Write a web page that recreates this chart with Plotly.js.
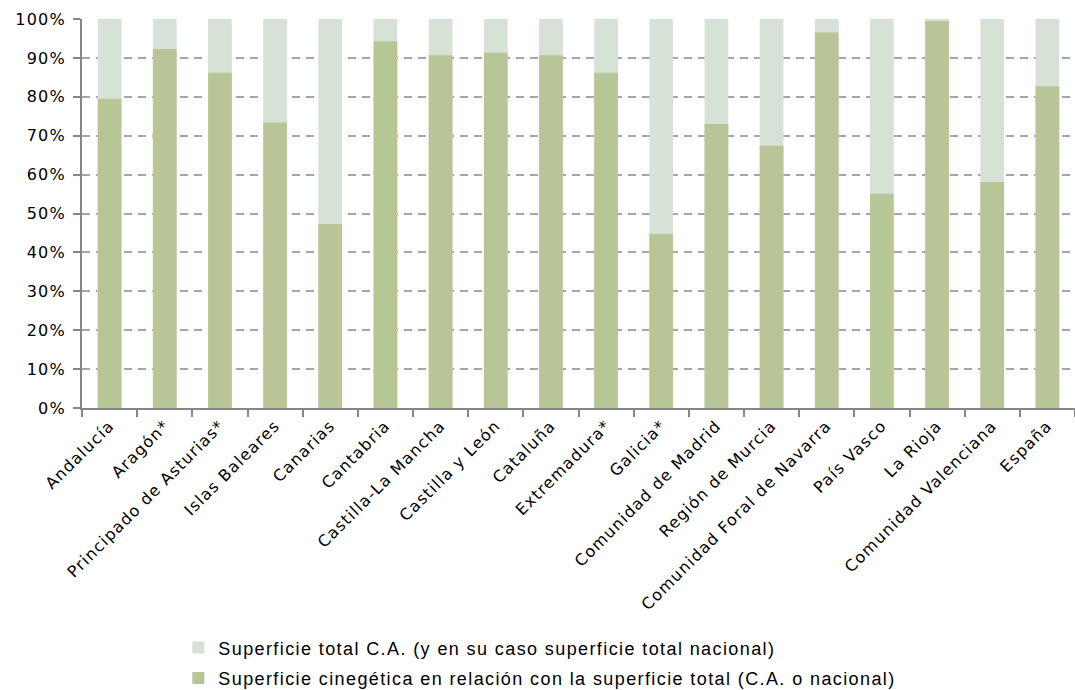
<!DOCTYPE html>
<html>
<head>
<meta charset="utf-8">
<script src="https://cdn.plot.ly/plotly-3.0.1.min.js"></script>
<style>
html,body{margin:0;padding:0;background:#fff;}
#chart{width:1075px;height:690px;}
#chart .xtick text, #chart .ytick text{letter-spacing:1.2px;}
text.legendtext{letter-spacing:1.4px;}
</style>
</head>
<body>
<div id="chart"></div>
<script>
const categories = ["Andalucía","Aragón*","Principado de Asturias*","Islas Baleares","Canarias","Cantabria","Castilla-La Mancha","Castilla y León","Cataluña","Extremadura*","Galicia*","Comunidad de Madrid","Región de Murcia","Comunidad Foral de Navarra","País Vasco","La Rioja","Comunidad Valenciana","España"];
const superficieTotal = [100,100,100,100,100,100,100,100,100,100,100,100,100,100,100,100,100,100];
const superficieCinegetica = [79.5,92.3,86.2,73.4,47.3,94.3,90.7,91.3,90.7,86.2,44.7,73.0,67.4,96.5,55.1,99.5,58.1,82.7];
const yTicks = [0,10,20,30,40,50,60,70,80,90,100];
const yTickText = yTicks.map(v => v + "%");

const traces = [
  {type:"bar", name:"Superficie total C.A. (y en su caso superficie total nacional)", x:categories, y:superficieTotal,
   marker:{color:"#d6e2d6"}, width:0.43, legendgroup:"a", hoverinfo:"x+y"},
  {type:"bar", name:"Superficie cinegética en relación con la superficie total (C.A. o nacional)", x:categories, y:superficieCinegetica,
   marker:{color:"#b8c597"}, width:0.43, legendgroup:"b", hoverinfo:"x+y"}
];

const layout = {
  width:1075, height:690,
  margin:{l:82, r:0, t:19, b:282, autoexpand:false},
  paper_bgcolor:"#fff", plot_bgcolor:"#fff",
  barmode:"overlay",
  font:{family:"DejaVu Sans, Verdana, sans-serif", color:"#000"},
  xaxis:{
    type:"category", tickangle:-45, tickfont:{size:16, family:"DejaVu Sans", color:"#000"},
    showline:true, linecolor:"#868686", linewidth:2,
    ticks:"outside", tickson:"boundaries", ticklen:7, tickcolor:"#868686", tickwidth:2,
    showgrid:false, automargin:false
  },
  yaxis:{
    range:[0,100], tickvals:yTicks, ticktext:yTickText,
    tickfont:{size:16, family:"DejaVu Sans", color:"#000"},
    showline:true, linecolor:"#868686", linewidth:2,
    ticks:"outside", ticklen:7, tickcolor:"#868686", tickwidth:2, ticklabelstandoff:4,
    showgrid:true, gridcolor:"#a6a6a6", griddash:"8px,6px", gridwidth:2,
    zeroline:false, automargin:false, fixedrange:true
  },
  legend:{
    orientation:"v", x:0.097, xanchor:"left", yref:"container", y:0.088, yanchor:"top",
    font:{size:18, family:"Liberation Sans, Arial, sans-serif", color:"#000"},
    itemwidth:30, tracegroupgap:4, traceorder:"grouped", bgcolor:"rgba(0,0,0,0)"
  },
  showlegend:true
};

Plotly.newPlot("chart", traces, layout, {displayModeBar:false, staticPlot:true});
</script>
</body>
</html>
